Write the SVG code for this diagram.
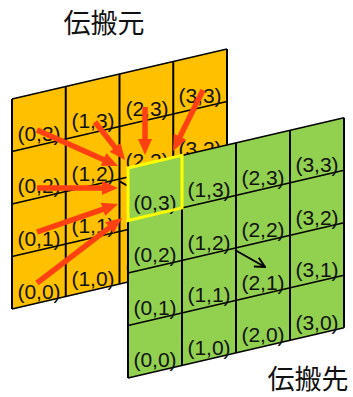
<svg xmlns="http://www.w3.org/2000/svg" width="353" height="397" viewBox="0 0 353 397">
<defs>
<style>
.vl{stroke:#000;stroke-width:2;fill:none}
.hl{stroke:#000;stroke-width:1.4;fill:none}
.lb{font-family:"Liberation Sans",Arial,sans-serif;font-size:21px;fill:#111;text-anchor:middle}
.ttl{font-family:"Noto Sans CJK JP","Noto Sans CJK SC",sans-serif;font-size:27px;fill:#111;text-anchor:middle}
.ra{stroke:#FF4010;stroke-width:5.5;fill:none;marker-end:url(#rh)}
.ba{stroke:#000;stroke-width:2;fill:none;marker-end:url(#bh)}
</style>
<marker id="rh" markerUnits="userSpaceOnUse" viewBox="0 0 16 14" markerWidth="16" markerHeight="14" refX="6" refY="7" orient="auto">
<path d="M0,0 L16,7 L0,14 z" fill="#FF4010"/>
</marker>
<marker id="bh" markerUnits="userSpaceOnUse" viewBox="0 0 12 12" markerWidth="12" markerHeight="12" refX="11" refY="6" orient="auto">
<path d="M1,1 L11,6 L1,11" fill="none" stroke="#000" stroke-width="2"/>
</marker>
</defs>
<rect width="353" height="397" fill="#fff"/>
<text class="ttl" x="104" y="33">伝搬元</text>
<text class="ttl" x="308" y="389">伝搬先</text>

<g id="source">
<polygon points="12,99 227,49 227,259 12,309" fill="#FFC000"/>
<path class="hl" d="M12,99 L227,49 M12,151.5 L227,101.5 M12,204 L227,154 M12,256.5 L227,206.5 M12,309 L227,259"/>
<path class="vl" d="M12,99 V309 M65.75,86.5 V296.5 M119.5,74 V284 M173.25,61.5 V271.5 M227,49 V259"/>
<g class="lb">
<text x="39" y="141">(0,3)</text><text x="93" y="128">(1,3)</text><text x="147" y="115.5">(2,3)</text><text x="200" y="103">(3,3)</text>
<text x="39" y="193">(0,2)</text><text x="93" y="180.5">(1,2)</text><text x="147" y="168">(2,2)</text><text x="200" y="155.5">(3,2)</text>
<text x="39" y="245.5">(0,1)</text><text x="93" y="233">(1,1)</text><text x="147" y="220.5">(2,1)</text>
<text x="39" y="299">(0,0)</text><text x="93" y="285.5">(1,0)</text><text x="147" y="273">(2,0)</text>
</g>
<line class="ba" x1="119" y1="181" x2="149" y2="198"/>
</g>

<g id="target">
<polygon points="128,168 344,117.8 344,327.8 128,378" fill="#92D050"/>
<path class="hl" d="M128,168 L344,117.8 M128,220.5 L344,170.3 M128,273 L344,222.8 M128,325.5 L344,275.3 M128,378 L344,327.8"/>
<path class="vl" d="M128,168 V378 M182,155.4 V365.4 M236,142.9 V352.9 M290,130.3 V340.3 M344,117.8 V327.8"/>
<g class="lb">
<text x="155" y="209.5">(0,3)</text><text x="209" y="197">(1,3)</text><text x="263" y="184.5">(2,3)</text><text x="317" y="172">(3,3)</text>
<text x="155" y="262">(0,2)</text><text x="209" y="249.5">(1,2)</text><text x="263" y="237">(2,2)</text><text x="317" y="224.5">(3,2)</text>
<text x="155" y="314.5">(0,1)</text><text x="209" y="302">(1,1)</text><text x="263" y="289.5">(2,1)</text><text x="317" y="277">(3,1)</text>
<text x="155" y="367">(0,0)</text><text x="209" y="354.5">(1,0)</text><text x="263" y="342">(2,0)</text><text x="317" y="329.5">(3,0)</text>
</g>
</g>

<g id="target-cell">
<polygon points="128,168 182,155.4 182,207.9 128,220.5" fill="none" stroke="#FFFF00" stroke-width="3"/>
</g>

<g id="connectors">
<line class="ba" x1="235" y1="250" x2="265" y2="267"/>
<line class="ra" x1="37" y1="130" x2="108.9" y2="161.9"/>
<line class="ra" x1="95" y1="122" x2="118.8" y2="152.1"/>
<line class="ra" x1="145" y1="107" x2="145" y2="145"/>
<line class="ra" x1="203" y1="90" x2="177.4" y2="142"/>
<line class="ra" x1="37" y1="188" x2="108" y2="188"/>
<line class="ra" x1="37" y1="232" x2="108.5" y2="207.3"/>
<line class="ra" x1="37" y1="283" x2="114.1" y2="224.1"/>
</g>
</svg>
